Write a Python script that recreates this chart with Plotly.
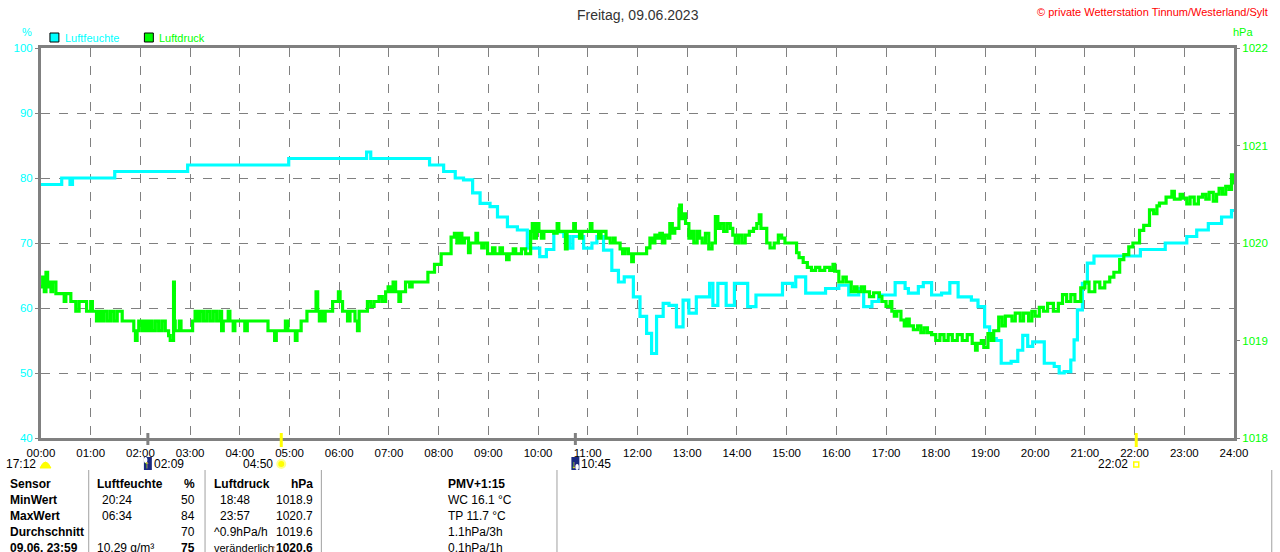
import plotly.graph_objects as go

# --- Luftfeuchte (%) ---
hum_time = ["00:00", "00:25", "00:35", "00:38", "01:29", "02:57", "04:59", "06:33", "06:38", "07:49",
            "08:06", "08:20", "08:30", "08:41", "08:50", "09:02", "09:11", "09:23", "09:35", "09:47",
            "10:02", "10:10", "10:19", "10:31", "10:38", "10:42", "10:55", "11:05", "11:11", "11:19",
            "11:29", "11:37", "11:44", "11:55", "12:03", "12:11", "12:17", "12:23", "12:31", "12:38",
            "12:47", "12:55", "13:02", "13:11", "13:27", "13:31", "13:37", "13:47", "13:57", "14:13",
            "14:23", "14:47", "14:55", "15:07", "15:11", "15:23", "15:47", "16:03", "16:15", "16:27",
            "16:33", "16:43", "16:51", "17:11", "17:23", "17:27", "17:39", "17:45", "17:55", "18:07",
            "18:17", "18:27", "18:43", "18:51", "18:59", "19:05", "19:13", "19:19", "19:31", "19:39",
            "19:45", "19:51", "19:57", "20:03", "20:11", "20:23", "20:29", "20:35", "20:43", "20:47",
            "20:51", "20:57", "21:03", "21:11", "22:07", "22:37", "23:03", "23:15", "23:29", "23:45",
            "23:57", "24:00"]
hum_val = [79, 80, 79, 80, 81, 82, 83, 84, 83, 82,
           81, 80, 79.7, 77.7, 76.1, 75.6, 74, 72.5, 72, 69.2,
           67.9, 69, 71.7, 71, 69.2, 71, 69.2, 70, 71, 68.9,
           65.8, 64, 64.8, 61.7, 58.7, 56.1, 53, 58.7, 60.7, 60.4,
           57.1, 61.2, 59.2, 61.7, 63.8, 60.4, 63.8, 60.4, 63.8, 60.2,
           62, 62, 63.8, 63.3, 64.8, 62.3, 63, 63.5, 62, 63,
           60.2, 61, 62, 63.9, 63, 62.3, 63.3, 63.9, 62, 62.3,
           63.9, 61.7, 61.2, 60.2, 57.1, 55.3, 55, 51.5, 51.8, 53.5,
           55.8, 54.1, 54.8, 54.8, 51.5, 51, 50, 50.2, 52, 55.1,
           59.7, 63.8, 66.9, 68, 69, 70, 71, 72, 73, 74,
           75, 75]

# --- Luftdruck (hPa) ---
press_time = ["00:00", "00:02", "00:04", "00:06", "00:08", "00:10", "00:12", "00:14", "00:18", "00:28",
              "00:30", "00:36", "00:42", "00:46", "00:55", "01:00", "01:02", "01:07", "01:10", "01:13",
              "01:16", "01:20", "01:24", "01:28", "01:32", "01:38", "01:52", "01:54", "01:56", "01:58",
              "02:02", "02:05", "02:08", "02:11", "02:14", "02:18", "02:22", "02:26", "02:30", "02:34",
              "02:36", "02:40", "02:41", "02:42", "02:47", "02:49", "03:03", "03:06", "03:09", "03:12",
              "03:16", "03:20", "03:24", "03:28", "03:32", "03:36", "03:38", "03:40", "03:46", "03:48",
              "03:52", "03:54", "04:06", "04:09", "04:34", "04:42", "04:44", "04:55", "04:58", "05:07",
              "05:09", "05:14", "05:21", "05:32", "05:34", "05:36", "05:38", "05:41", "05:43", "05:52",
              "05:59", "06:01", "06:04", "06:10", "06:13", "06:19", "06:22", "06:24", "06:34", "06:38",
              "06:42", "06:48", "06:52", "06:56", "06:59", "07:02", "07:05", "07:08", "07:12", "07:14",
              "07:20", "07:25", "07:28", "07:47", "07:55", "08:03", "08:15", "08:19", "08:22", "08:25",
              "08:28", "08:31", "08:36", "08:38", "08:45", "08:47", "08:52", "08:55", "08:59", "09:05",
              "09:08", "09:14", "09:17", "09:22", "09:25", "09:30", "09:33", "09:40", "09:45", "09:51",
              "09:53", "09:55", "09:58", "10:01", "10:04", "10:07", "10:19", "10:23", "10:25", "10:33",
              "10:35", "10:43", "10:45", "10:50", "10:53", "11:03", "11:05", "11:13", "11:16", "11:22",
              "11:27", "11:31", "11:33", "11:39", "11:42", "11:45", "11:49", "11:53", "11:55", "12:11",
              "12:15", "12:18", "12:21", "12:24", "12:27", "12:30", "12:33", "12:37", "12:39", "12:42",
              "12:45", "12:50", "12:51", "12:53", "12:55", "12:58", "13:02", "13:05", "13:08", "13:12",
              "13:15", "13:18", "13:22", "13:26", "13:30", "13:34", "13:37", "13:40", "13:44", "13:48",
              "13:52", "13:55", "13:58", "14:02", "14:06", "14:10", "14:15", "14:20", "14:24", "14:27",
              "14:29", "14:36", "14:40", "14:45", "14:50", "14:54", "14:58", "15:12", "15:15", "15:20",
              "15:25", "15:30", "15:35", "15:40", "15:46", "15:52", "15:56", "15:58", "16:03", "16:08",
              "16:12", "16:18", "16:22", "16:25", "16:30", "16:34", "16:40", "16:45", "16:52", "16:55",
              "17:00", "17:05", "17:07", "17:10", "17:13", "17:18", "17:22", "17:25", "17:28", "17:33",
              "17:38", "17:42", "17:46", "17:50", "17:55", "18:00", "18:05", "18:10", "18:15", "18:20",
              "18:26", "18:32", "18:38", "18:44", "18:48", "18:50", "18:55", "18:58", "19:03", "19:07",
              "19:10", "19:16", "19:20", "19:24", "19:28", "19:32", "19:36", "19:42", "19:46", "19:52",
              "19:56", "20:00", "20:05", "20:10", "20:15", "20:22", "20:28", "20:33", "20:38", "20:43",
              "20:48", "20:55", "21:00", "21:05", "21:12", "21:18", "21:24", "21:30", "21:35", "21:42",
              "21:47", "21:53", "21:58", "22:06", "22:11", "22:18", "22:23", "22:27", "22:30", "22:38",
              "22:45", "22:48", "22:55", "22:58", "23:03", "23:07", "23:12", "23:17", "23:22", "23:26",
              "23:30", "23:35", "23:39", "23:42", "23:46", "23:50", "23:54", "23:57", "24:00"]
press_val = [1019.55, 1019.65, 1019.5, 1019.7, 1019.55, 1019.6, 1019.5, 1019.6, 1019.48, 1019.4,
             1019.48, 1019.4, 1019.3, 1019.4, 1019.3, 1019.4, 1019.3, 1019.2, 1019.3, 1019.2,
             1019.3, 1019.2, 1019.3, 1019.2, 1019.3, 1019.2, 1019.1, 1019.0, 1019.1, 1019.2,
             1019.1, 1019.2, 1019.1, 1019.2, 1019.1, 1019.2, 1019.1, 1019.2, 1019.1, 1019.05,
             1019.0, 1019.6, 1019.2, 1019.1, 1019.2, 1019.1, 1019.2, 1019.3, 1019.2, 1019.3,
             1019.2, 1019.3, 1019.2, 1019.3, 1019.2, 1019.3, 1019.1, 1019.2, 1019.3, 1019.2,
             1019.1, 1019.2, 1019.1, 1019.2, 1019.1, 1019.0, 1019.1, 1019.2, 1019.1, 1019.0,
             1019.1, 1019.2, 1019.3, 1019.5, 1019.3, 1019.2, 1019.3, 1019.2, 1019.3, 1019.4,
             1019.5, 1019.4, 1019.3, 1019.2, 1019.3, 1019.2, 1019.1, 1019.3, 1019.4, 1019.35,
             1019.4, 1019.45, 1019.4, 1019.5, 1019.55, 1019.5, 1019.6, 1019.5, 1019.4, 1019.5,
             1019.6, 1019.55, 1019.6, 1019.7, 1019.78, 1019.89, 1020.06, 1020.1, 1020.0, 1020.1,
             1020.0, 1020.05, 1019.9, 1020.0, 1020.1, 1020.0, 1019.95, 1020.0, 1019.89, 1019.95,
             1019.89, 1019.95, 1019.89, 1019.83, 1019.89, 1019.94, 1019.89, 1019.94, 1019.89, 1020.12,
             1020.2, 1020.05, 1020.2, 1020.12, 1020.05, 1020.12, 1020.1, 1020.2, 1020.12, 1019.94,
             1020.12, 1020.2, 1020.12, 1020.05, 1020.12, 1020.2, 1020.12, 1020.05, 1020.12, 1020.05,
             1020.0, 1020.05, 1020.0, 1019.94, 1019.89, 1019.94, 1019.89, 1019.81, 1019.89, 1019.95,
             1020.05, 1020.0, 1020.08, 1020.05, 1020.1, 1020.0, 1020.08, 1020.05, 1020.2, 1020.1,
             1020.15, 1020.35, 1020.39, 1020.25, 1020.3, 1020.2, 1020.05, 1020.12, 1020.0, 1020.12,
             1020.05, 1020.0, 1020.1, 1019.94, 1020.0, 1020.27, 1020.15, 1020.2, 1020.12, 1020.2,
             1020.15, 1020.08, 1020.0, 1020.08, 1020.0, 1020.08, 1020.12, 1020.15, 1020.2, 1020.29,
             1020.15, 1020.0, 1019.95, 1020.0, 1020.08, 1020.05, 1020.0, 1019.9, 1019.85, 1019.8,
             1019.75, 1019.72, 1019.75, 1019.72, 1019.75, 1019.72, 1019.78, 1019.71, 1019.6, 1019.65,
             1019.6, 1019.5, 1019.55, 1019.5, 1019.55, 1019.5, 1019.45, 1019.49, 1019.45, 1019.4,
             1019.35, 1019.4, 1019.3, 1019.25, 1019.3, 1019.21, 1019.15, 1019.22, 1019.15, 1019.11,
             1019.15, 1019.08, 1019.13, 1019.08, 1019.06, 1019.0, 1019.06, 1019.0, 1019.06, 1019.0,
             1019.06, 1019.0, 1019.06, 1018.97, 1018.9, 1018.97, 1019.0, 1018.93, 1019.07, 1019.0,
             1019.1, 1019.24, 1019.15, 1019.25, 1019.25, 1019.2, 1019.28, 1019.2, 1019.28, 1019.2,
             1019.3, 1019.25, 1019.34, 1019.3, 1019.38, 1019.3, 1019.38, 1019.47, 1019.4, 1019.47,
             1019.4, 1019.54, 1019.6, 1019.5, 1019.6, 1019.54, 1019.6, 1019.65, 1019.7, 1019.83,
             1019.88, 1019.96, 1020.0, 1020.13, 1020.18, 1020.34, 1020.3, 1020.38, 1020.41, 1020.47,
             1020.53, 1020.45, 1020.5, 1020.46, 1020.4, 1020.47, 1020.4, 1020.47, 1020.5, 1020.45,
             1020.52, 1020.43, 1020.5, 1020.56, 1020.5, 1020.58, 1020.55, 1020.7, 1020.6]

assert len(hum_time) == len(hum_val)
assert len(press_time) == len(press_val)

hour_labels = ["%02d:00" % h for h in range(25)]

# Mond/Sonne Ereignisse
moon_events = ["02:09", "10:45"]
moon_dirs = ["↑", "↓"]
sun_events = ["04:50", "22:02"]

# Tabelle unten
table_rows = [
    ["Sensor", "Luftfeuchte", "%", "Luftdruck", "hPa", "PMV+1:15"],
    ["MinWert", "20:24", "50", "18:48", "1018.9", "WC 16.1 °C"],
    ["MaxWert", "06:34", "84", "23:57", "1020.7", "TP 11.7 °C"],
    ["Durchschnitt", "", "70", "^0.9hPa/h", "1019.6", "1.1hPa/3h"],
    ["09.06. 23:59", "10.29 g/m³", "75", "veränderlich", "1020.6", "0.1hPa/1h"],
]

CYAN = "#00ffff"
GREEN = "#00ff00"
GRAY = "#808080"
FONT = "Liberation Sans"


def hours(t):
    h, m = t.split(":")
    return int(h) + int(m) / 60


def px(x):
    return (x - 41) / 1200


def py(y):
    return (438 - y) / 390


def note(x, y, text, size=11, color="black", anchor="center", xref="paper"):
    # Beschriftung an Pixelposition (oder Zeit auf der x-Achse)
    return dict(x=px(x) if xref == "paper" else x, y=py(y), xref=xref, yref="paper",
                xanchor=anchor, yanchor="middle", text=text, showarrow=False,
                font=dict(family=FONT, size=size, color=color))


fig = go.Figure()
fig.add_trace(go.Scatter(x=[hours(t) for t in hum_time], y=hum_val, mode="lines",
                         line=dict(color=CYAN, width=3.2, shape="hv"), name="Luftfeuchte"))
fig.add_trace(go.Scatter(x=[hours(t) for t in press_time], y=press_val, mode="lines", yaxis="y2",
                         line=dict(color=GREEN, width=3.2, shape="hv"), name="Luftdruck"))

fig.update_layout(
    width=1280, height=552,
    margin=dict(l=41, r=39, t=48, b=114),
    paper_bgcolor="white", plot_bgcolor="white",
    showlegend=False,
    font=dict(family=FONT, size=11, color="black"),
    xaxis=dict(range=[0, 24], tickvals=list(range(25)), ticktext=hour_labels,
               showgrid=True, gridcolor=GRAY, griddash="dash", gridwidth=1,
               showline=True, linecolor=GRAY, linewidth=3, mirror=True,
               ticks="", ticklabelstandoff=2, tickfont=dict(size=11.5, color="black"),
               zeroline=False),
    yaxis=dict(range=[40, 100], dtick=10, showgrid=True, gridcolor=GRAY, griddash="dash",
               showline=True, linecolor=GRAY, linewidth=3, mirror=True,
               ticks="outside", ticklen=3, tickcolor=GRAY,
               tickfont=dict(size=11.5, color=CYAN), zeroline=False),
    yaxis2=dict(range=[1018, 1022], dtick=1, overlaying="y", side="right", showgrid=False,
                ticks="outside", ticklen=5, tickcolor=GRAY,
                tickfont=dict(size=11.5, color=GREEN), zeroline=False),
)

ann = []
shapes = []

# Titel und Kopfzeile
ann.append(note(641, 15, "Freitag, 09.06.2023", size=14, color="#333333"))
ann.append(note(1277, 12, "© private Wetterstation Tinnum/Westerland/Sylt", size=11, color="#ff0000",
                anchor="right"))
ann.append(note(27, 32, "%", color=CYAN))
ann.append(note(1250, 32, "hPa", color=GREEN))

# Legende
for x0, col, label in [(50, CYAN, "Luftfeuchte"), (145, GREEN, "Luftdruck")]:
    shapes.append(dict(type="rect", xref="paper", yref="paper", x0=px(x0), x1=px(x0 + 9),
                       y0=py(42), y1=py(33), fillcolor=col, line=dict(color="black", width=1)))
    ann.append(note(x0 + 13, 37.5, label, color=col, anchor="left"))

# Ereignis-Markierungen unter der Zeitachse (Mond)
for t, d in zip(moon_events, moon_dirs):
    h = hours(t)
    shapes.append(dict(type="line", xref="x", yref="paper", x0=h, x1=h, y0=py(445), y1=py(433),
                       line=dict(color=GRAY, width=3)))
    shapes.append(dict(type="rect", xref="x", yref="paper", x0=h - 0.08, x1=h + 0.08,
                       y0=py(470), y1=py(457), fillcolor="#1a2a80", line=dict(width=0)))
    if d == "↑":
        shapes.append(dict(type="circle", xref="x", yref="paper", x0=h - 0.08, x1=h - 0.01,
                           y0=py(463), y1=py(457), fillcolor="white", line=dict(width=0)))
    else:
        shapes.append(dict(type="circle", xref="x", yref="paper", x0=h + 0.0, x1=h + 0.07,
                           y0=py(470), y1=py(464), fillcolor="white", line=dict(width=0)))
    ann.append(note(h - 0.01 if d == "↑" else h - 0.03, 463.5, "<b>" + d + "</b>",
                    color="#ffff00", xref="x"))
    ann.append(note(h + 0.08, 464, t, size=12, anchor="left", xref="x"))

# Sonne
for t in sun_events:
    h = hours(t)
    shapes.append(dict(type="line", xref="x", yref="paper", x0=h, x1=h, y0=py(447), y1=py(433),
                       line=dict(color="#ffff00", width=3)))
    ann.append(note(h - 0.12, 464, t, size=12, anchor="right", xref="x"))

# Sonnenaufgang 04:50 (Sonne), Sonnenuntergang 22:02 (kleines Quadrat)
h = hours(sun_events[0])
shapes.append(dict(type="circle", xref="x", yref="paper", x0=h - 0.08, x1=h + 0.08,
                   y0=py(468), y1=py(460), fillcolor="#ffff00", line=dict(color="#ffff90", width=2)))
h = hours(sun_events[1])
shapes.append(dict(type="rect", xref="x", yref="paper", x0=h - 0.05, x1=h + 0.05,
                   y0=py(467), y1=py(462), fillcolor="white", line=dict(color="#ffff00", width=1.5)))

# Vortag 17:12
ann.append(note(38, 464, "17:12", size=12, anchor="right"))
shapes.append(dict(type="path", xref="paper", yref="paper",
                   path="M %f %f Q %f %f %f %f Z" % (px(40), py(468), px(45.5), py(456), px(51), py(468)),
                   fillcolor="#ffff00", line=dict(color="#ffff00", width=1)))

# Tabelle
col_x = [(8, "left"), (100, "left"), (198, "right"), (219, "left"), (317, "right"), (448, "left")]
bold_cells = {(4, 2), (4, 4)}
for r, row in enumerate(table_rows):
    y = 484 + 16 * r
    for c, txt in enumerate(row):
        if not txt:
            continue
        x, anchor = col_x[c]
        if c == 1 and r in (0, 4):
            x = 95
        if c == 3 and r in (0, 3, 4):
            x = 213
        bold = r == 0 or c == 0 or (r, c) in bold_cells
        size = 11 if (r, c) == (4, 3) else 12
        ann.append(note(x, y, ("<b>%s</b>" % txt) if bold else txt, size=size, anchor=anchor))
ann.append(note(275, 548, "<b>↑</b>", size=11, color="#c06000"))

for x in [89, 206, 323, 560, 1279]:
    shapes.append(dict(type="line", xref="paper", yref="paper", x0=px(x), x1=px(x),
                       y0=py(470), y1=py(560), line=dict(color="#a0a0a0", width=1)))

fig.update_layout(annotations=ann, shapes=shapes)

fig.write_html("out.html", config={"displayModeBar": False},
               post_script="document.body.style.margin='0';")
